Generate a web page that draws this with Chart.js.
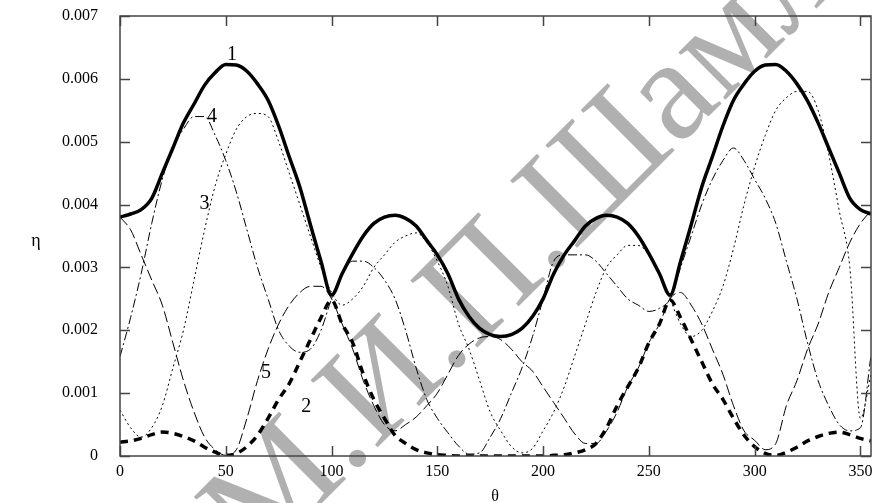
<!DOCTYPE html>
<html>
<head>
<meta charset="utf-8">
<script src="https://cdn.jsdelivr.net/npm/chart.js@4.4.1/dist/chart.umd.min.js"></script>
<style>
  html, body { margin: 0; padding: 0; background: #fff; overflow: hidden; }
  #wrap { width: 900px; height: 503px; }
</style>
</head>
<body>
<div id="wrap"><canvas id="chart" width="900" height="503"></canvas></div>
<script>
// angle, degrees
const theta = [0, 5, 10, 15, 20, 25, 30, 35, 40, 45, 50, 55, 60, 65, 70, 75, 80, 85, 90, 95,
  100, 105, 110, 115, 120, 125, 130, 135, 140, 145, 150, 155, 160, 165, 170, 175, 180, 185, 190, 195,
  200, 205, 210, 215, 220, 225, 230, 235, 240, 245, 250, 255, 260, 265, 270, 275, 280, 285, 290, 295,
  300, 305, 310, 315, 320, 325, 330, 335, 340, 345, 350, 355];

// curve 1 - thick solid
const eta1 = [0.0038, 0.00385, 0.00392, 0.0041, 0.0045, 0.0049, 0.0053, 0.0056, 0.0059, 0.0061,
  0.00623, 0.00622, 0.00612, 0.00592, 0.00566, 0.00525, 0.00476, 0.00428, 0.00368, 0.0031,
  0.00256, 0.0029, 0.00322, 0.0035, 0.0037, 0.0038, 0.00383, 0.00378, 0.00366, 0.00343,
  0.0032, 0.0029, 0.0025, 0.00222, 0.00203, 0.00193, 0.0019, 0.00193, 0.00203, 0.00222,
  0.0025, 0.0029, 0.0032, 0.00343, 0.00366, 0.00378, 0.00383, 0.0038, 0.0037, 0.0035,
  0.00322, 0.0029, 0.00256, 0.0031, 0.00368, 0.00428, 0.00476, 0.00525, 0.00566, 0.00592,
  0.00612, 0.00622, 0.00623, 0.00612, 0.00592, 0.00565, 0.0053, 0.0049, 0.0045, 0.0041,
  0.00392, 0.00385];

// curve 2 - thick dashed
const eta2 = [0.00022, 0.00024, 0.00028, 0.00034, 0.00038, 0.00036, 0.00031, 0.00024, 0.00014, 0.00006,
  0.00001, 0.00004, 0.00015, 0.00033, 0.0006, 0.0009, 0.00115, 0.0015, 0.00185, 0.0022,
  0.00248, 0.0021, 0.0018, 0.0013, 0.0009, 0.0006, 0.00033, 0.0002, 0.0001, 0.00005,
  0.00002, 0.00001, 0, 0, 0, 0, 0, 0, 0, 0,
  0, 0.00001, 0.00002, 0.00005, 0.0001, 0.0002, 0.00045, 0.0008, 0.0011, 0.0014,
  0.0018, 0.0021, 0.00248, 0.0022, 0.00185, 0.0015, 0.00115, 0.0009, 0.0006, 0.00033,
  0.00015, 0.00004, 0.00001, 0.00006, 0.00014, 0.00024, 0.00031, 0.00036, 0.00038, 0.00034,
  0.00028, 0.00024];

// curve 3 - dotted
const eta3 = [0.00073, 0.00045, 0.0003, 0.00045, 0.0008, 0.0014, 0.002, 0.0028, 0.0036, 0.0043,
  0.0048, 0.0052, 0.0054, 0.00545, 0.0054, 0.005, 0.0045, 0.004, 0.0035, 0.003,
  0.0026, 0.0024, 0.0025, 0.0027, 0.003, 0.0032, 0.0034, 0.0035, 0.00355, 0.0034,
  0.0031, 0.0027, 0.0021, 0.0017, 0.0012, 0.0007, 0.0004, 0.00015, 0.00005, 0.00012,
  0.0004, 0.0007, 0.0011, 0.0016, 0.0021, 0.0026, 0.003, 0.0032, 0.00335, 0.00335,
  0.0032, 0.0029, 0.0025, 0.0021, 0.0019, 0.002, 0.0023, 0.0027, 0.0033, 0.004,
  0.0046, 0.0051, 0.0055, 0.0057, 0.0058, 0.0058, 0.0055, 0.0048, 0.0039, 0.003,
  0.0006, 0.0013];

// curve 4 - dash-dot
const eta4 = [0.00158, 0.0022, 0.0029, 0.0037, 0.0044, 0.0049, 0.0052, 0.0054, 0.0054, 0.0051,
  0.0047, 0.0042, 0.0036, 0.003, 0.0025, 0.002, 0.00175, 0.00165, 0.0017, 0.002,
  0.0025, 0.0029, 0.0031, 0.0031, 0.003, 0.0028, 0.0025, 0.002, 0.0014, 0.0009,
  0.0006, 0.00037, 0.00016, 0.00003, 0.00005, 0.0003, 0.0006, 0.001, 0.0014, 0.0019,
  0.0025, 0.0031, 0.0032, 0.0032, 0.0032, 0.0031, 0.0029, 0.0027, 0.0025, 0.0024,
  0.0023, 0.00235, 0.0025, 0.003, 0.0035, 0.004, 0.0044, 0.0047, 0.0049, 0.0047,
  0.0044, 0.0041, 0.0037, 0.0031, 0.0025, 0.0018, 0.0012, 0.0008, 0.0005, 0.0004,
  0.00045, 0.0016];

// curve 5 - long dashes
const eta5 = [0.0038, 0.0036, 0.0032, 0.0028, 0.0024, 0.0018, 0.0012, 0.0007, 0.0003, 0.0001,
  0.00001, 0.0001, 0.0006, 0.0012, 0.0017, 0.0021, 0.0024, 0.0026, 0.0027, 0.0027,
  0.0025, 0.0021, 0.0017, 0.0012, 0.0008, 0.0005, 0.0004, 0.0005, 0.00062, 0.0008,
  0.001, 0.0013, 0.0016, 0.00178, 0.00188, 0.0019, 0.00185, 0.0017, 0.0015, 0.00135,
  0.0011, 0.00085, 0.0006, 0.00035, 0.0002, 0.0002, 0.0004, 0.0007, 0.0011, 0.0014,
  0.0018, 0.0021, 0.0025, 0.0026, 0.0024, 0.0021, 0.0017, 0.0013, 0.0008, 0.0004,
  0.00025, 0.0001, 0.0002, 0.0008, 0.0012, 0.0017, 0.0021, 0.0026, 0.003, 0.0034,
  0.0037, 0.0039];

const xTicks = [0, 50, 100, 150, 200, 250, 300, 350];
const yTicks = [0, 0.001, 0.002, 0.003, 0.004, 0.005, 0.006, 0.007];
const yTickLabels = ["0", "0.001", "0.002", "0.003", "0.004", "0.005", "0.006", "0.007"];

// curve numbers written on the plot: [text, theta, eta]
const curveNames = [["1", 53, 0.00638], ["4", 43.5, 0.00539], ["3", 40, 0.00402], ["5", 69, 0.00132], ["2", 88, 0.00078]];

const SERIF = "'Liberation Serif', 'Times New Roman', serif";

const framePlugin = {
  id: "frame",
  beforeDraw(chart) {
    // watermark, under everything
    const ctx = chart.ctx;
    ctx.save();
    ctx.translate(258, 567);
    ctx.rotate(-45 * Math.PI / 180);
    ctx.fillStyle = "#b0b0b0";
    ctx.font = "145px " + SERIF;
    ctx.textBaseline = "alphabetic";
    ctx.fillText("М.И.П.Шамл", 0, 0);
    ctx.restore();
  },
  afterDraw(chart) {
    const ctx = chart.ctx;
    const a = chart.chartArea;
    const xs = chart.scales.x, ys = chart.scales.y;
    ctx.save();
    ctx.strokeStyle = "#444";
    ctx.lineWidth = 1.5;
    ctx.strokeRect(a.left, a.top, a.right - a.left, a.bottom - a.top);
    ctx.beginPath();
    xTicks.forEach(v => {
      const px = Math.round(xs.getPixelForValue(v)) + 0.5;
      ctx.moveTo(px, a.bottom); ctx.lineTo(px, a.bottom - 10);
      ctx.moveTo(px, a.top); ctx.lineTo(px, a.top + 10);
    });
    yTicks.forEach(v => {
      const py = Math.round(ys.getPixelForValue(v)) + 0.5;
      ctx.moveTo(a.left, py); ctx.lineTo(a.left + 10, py);
      ctx.moveTo(a.right, py); ctx.lineTo(a.right - 10, py);
    });
    ctx.stroke();

    ctx.fillStyle = "#000";
    ctx.textAlign = "center";
    ctx.textBaseline = "middle";
    ctx.font = "20px " + SERIF;
    curveNames.forEach(([t, x, y]) => {
      ctx.fillText(t, xs.getPixelForValue(x), ys.getPixelForValue(y));
    });
    ctx.font = "18px " + SERIF;
    ctx.fillText("η", 36, 241);
    ctx.font = "16px " + SERIF;
    ctx.fillText("θ", 495, 497);
    ctx.restore();
  }
};

function lineSet(label, data, width, dash) {
  return {
    label: label,
    data: data,
    borderColor: "#000",
    borderWidth: width,
    borderDash: dash,
    pointRadius: 0,
    cubicInterpolationMode: "monotone",
    fill: false
  };
}

new Chart(document.getElementById("chart"), {
  type: "line",
  data: {
    labels: theta,
    datasets: [
      lineSet("1", eta1, 3.5, []),
      lineSet("2", eta2, 3.5, [8, 6]),
      lineSet("3", eta3, 1, [2, 3]),
      lineSet("4", eta4, 1, [9, 3, 2, 3]),
      lineSet("5", eta5, 1, [11, 4])
    ]
  },
  options: {
    responsive: false,
    animation: false,
    devicePixelRatio: 1,
    layout: { padding: { left: 0, top: 16, right: 29, bottom: 0 } },
    plugins: { legend: { display: false }, tooltip: { enabled: false } },
    scales: {
      x: {
        type: "linear",
        min: 0,
        max: 355,
        grid: { display: false, drawTicks: false },
        border: { display: false },
        afterBuildTicks: (scale) => { scale.ticks = xTicks.map(v => ({ value: v })); },
        afterFit: (scale) => { scale.height = 47; scale.paddingLeft = 0; scale.paddingRight = 0; },
        ticks: {
          autoSkip: false,
          maxRotation: 0,
          padding: 6,
          color: "#000",
          font: { family: SERIF, size: 16 },
          callback: (v) => String(v)
        }
      },
      y: {
        min: 0,
        max: 0.007,
        grid: { display: false, drawTicks: false },
        border: { display: false },
        afterBuildTicks: (scale) => { scale.ticks = yTicks.map(v => ({ value: v })); },
        afterFit: (scale) => { scale.width = 120; scale.paddingTop = 0; scale.paddingBottom = 0; },
        ticks: {
          padding: 22,
          color: "#000",
          font: { family: SERIF, size: 16 },
          callback: (v) => yTickLabels[yTicks.indexOf(v)]
        }
      }
    }
  },
  plugins: [framePlugin]
});
</script>
</body>
</html>
